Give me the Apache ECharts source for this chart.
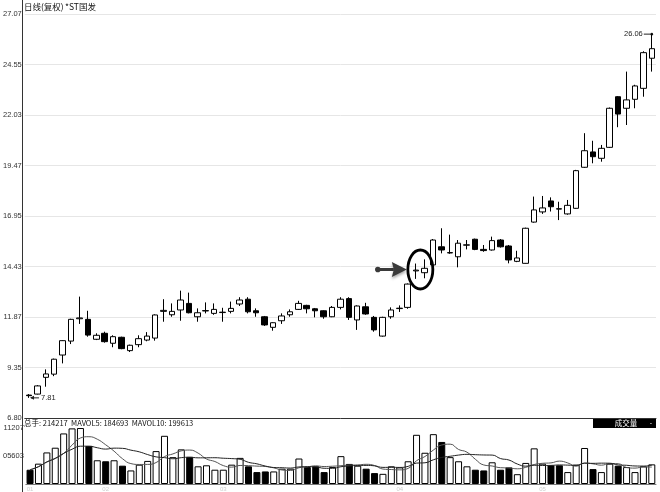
<!DOCTYPE html>
<html>
<head>
<meta charset="utf-8">
<script src="https://cdn.jsdelivr.net/npm/echarts@6/dist/echarts.min.js"></script>
<style>html,body{margin:0;padding:0;background:#fff;}#c{width:660px;height:492px;}</style>
</head>
<body>
<div id="c"></div>
<script>
// ---- data ----
const categories = Array.from({length: 75}, (_, i) => String(i + 1));
const opens  = [7.95,8.00,8.84,9.00,9.96,10.66,11.78,11.75,10.75,11.05,10.55,10.85,10.18,10.48,10.71,10.81,12.15,11.98,12.22,12.55,11.88,12.17,12.05,12.09,12.15,12.52,12.76,12.18,11.88,11.35,11.68,11.98,12.25,12.45,12.28,12.18,11.88,12.35,12.79,11.72,12.38,11.85,10.91,11.88,12.29,12.35,14.18,14.09,14.48,15.39,15.08,14.89,15.47,15.77,15.26,15.23,15.73,15.43,14.66,14.56,16.63,17.14,17.69,17.30,17.04,17.32,19.38,20.15,19.83,20.38,22.92,22.34,22.79,23.34,24.85];
const closes = [7.92,8.41,9.01,9.75,10.68,11.75,11.82,10.96,10.95,10.63,10.88,10.28,10.45,10.78,10.91,11.97,12.20,12.15,12.72,12.08,12.08,12.19,12.25,12.11,12.30,12.72,12.13,12.08,11.47,11.58,11.92,12.13,12.55,12.28,12.18,11.88,12.35,12.76,11.85,12.42,12.02,11.22,11.85,12.22,12.31,13.52,14.22,14.31,15.73,15.23,15.10,15.57,15.49,15.26,15.20,15.70,15.39,14.73,14.83,16.32,17.24,17.34,17.40,17.28,17.47,19.21,20.21,19.91,20.33,22.34,22.05,22.76,23.46,25.13,25.33];
const lows   = [7.81,7.98,8.37,8.90,9.54,10.51,11.52,10.88,10.71,10.58,10.35,10.25,10.11,10.35,10.65,10.68,11.63,11.88,11.68,12.05,11.63,12.05,11.98,11.63,12.05,12.42,12.05,11.88,11.42,11.18,11.52,11.88,12.22,12.05,11.85,11.78,11.86,12.25,11.72,11.22,11.98,11.13,10.88,11.78,12.12,12.28,13.78,13.81,14.45,15.06,15.04,14.36,15.26,15.22,15.14,15.20,15.35,14.56,14.62,14.55,16.60,17.04,17.16,16.73,17.00,17.30,19.35,19.58,19.66,20.35,21.39,21.50,22.34,22.92,24.18];
const highs  = [8.00,8.45,9.24,9.78,10.70,11.78,12.89,12.18,11.05,11.13,10.95,10.88,10.48,10.95,11.11,12.00,12.76,12.55,13.19,13.09,12.30,12.60,12.55,12.33,12.64,12.86,12.86,12.30,11.92,11.60,12.05,12.25,12.68,12.48,12.32,12.20,12.42,12.86,12.86,12.45,12.58,11.92,11.88,12.35,12.45,13.55,14.55,14.76,15.78,16.32,16.00,15.73,15.73,15.80,15.48,15.90,15.78,15.48,15.19,16.35,17.91,17.94,17.87,17.65,17.74,19.25,21.09,20.71,20.50,22.38,22.95,24.18,23.52,25.20,26.06];
const volumes = [155600,222000,344500,396000,552000,607000,611000,415000,259000,248000,259000,200000,148000,211000,252000,359000,526000,293000,378000,296000,193000,204000,156000,156000,211000,285000,193000,130000,137000,137000,167000,167000,278000,185000,193000,130000,185000,304000,219000,200000,167000,119000,111000,193000,181000,248000,537000,341000,544000,459000,293000,248000,193000,156000,148000,237000,156000,181000,107000,230000,389000,222000,204000,204000,130000,211000,393000,163000,130000,222000,200000,185000,130000,193000,214217];
const priceTicks = ['6.80','9.35','11.87','14.43','16.95','19.47','22.03','24.55','27.07'];
const volumeTicks = ['', '05603', '11207'];
const xTickIndex = [0, 9, 23, 44, 61];
const xTickText = ['01', '02', '03', '04', '05'];
const headerText = ['日线(复权)', '*ST国发'];
const volumeHeader = '总手: 214217  MAVOL5: 184693  MAVOL10: 199613';
const highLabel = '26.06';
const lowLabel = '7.81';

// ---- build ----
const candleData = opens.map((o, i) => [o, closes[i], lows[i], highs[i]]);
const volData = volumes.map((v, i) => ({
  value: v,
  itemStyle: closes[i] < opens[i] ? {color: '#000', borderColor: '#000'} : {color: '#fff', borderColor: '#000'}
}));
function ma(arr, n) {
  return arr.map((_, i) => {
    const s = Math.max(0, i - n + 1);
    const sl = arr.slice(s, i + 1);
    return sl.reduce((a, b) => a + b, 0) / sl.length;
  });
}
const font = 'Liberation Sans, Arial, sans-serif';
const chart = echarts.init(document.getElementById('c'), null, {renderer: 'canvas'});
const option = {
  animation: false,
  backgroundColor: '#fff',
  grid: [
    {left: 23, right: 4, top: 14, height: 404},
    {left: 23, right: 4, top: 428, height: 56}
  ],
  xAxis: [
    {type: 'category', gridIndex: 0, data: categories, boundaryGap: true,
     axisLine: {lineStyle: {color: '#333', width: 1}}, axisTick: {show: false},
     axisLabel: {show: false}, splitLine: {show: false}},
    {type: 'category', gridIndex: 1, data: categories, boundaryGap: true,
     axisLine: {lineStyle: {color: '#777', width: 1}}, axisTick: {show: false},
     axisLabel: {interval: (idx) => xTickIndex.includes(idx),
       formatter: (v, idx) => { const k = xTickIndex.indexOf(idx); return k >= 0 ? xTickText[k] : ''; },
       color: '#cfcfcf', fontSize: 6, margin: 2, fontFamily: font},
     splitLine: {show: false}}
  ],
  yAxis: [
    {type: 'value', gridIndex: 0, min: 6.80, max: 27.07, show: false},
    {type: 'value', gridIndex: 0, min: 0, max: 8, interval: 1, position: 'left',
     axisLine: {show: false}, axisTick: {show: false},
     axisLabel: {formatter: (v) => priceTicks[Math.round(v)] || '', color: '#333', fontSize: 7.5, margin: 3, fontFamily: font},
     splitLine: {show: true, lineStyle: {color: '#e6e6e6', width: 1}}},
    {type: 'value', gridIndex: 1, min: 0, max: 611207, show: false},
    {type: 'value', gridIndex: 1, min: 0, max: 2, interval: 1, position: 'left',
     axisLine: {show: false}, axisTick: {show: false}, splitLine: {show: false},
     axisLabel: {formatter: (v) => volumeTicks[Math.round(v)] || '', color: '#333', fontSize: 7.5, margin: 2, fontFamily: font}}
  ],
  series: [
    {type: 'candlestick', xAxisIndex: 0, yAxisIndex: 0, data: candleData, barWidth: 6,
     itemStyle: {color: '#fff', color0: '#000', borderColor: '#000', borderColor0: '#000', borderWidth: 1}},
    {type: 'bar', xAxisIndex: 1, yAxisIndex: 2, data: volData, barWidth: 7,
     itemStyle: {borderWidth: 1}},
    {type: 'line', xAxisIndex: 1, yAxisIndex: 2, data: ma(volumes, 5), smooth: true, symbol: 'none',
     lineStyle: {color: '#555', width: 1}},
    {type: 'line', xAxisIndex: 1, yAxisIndex: 2, data: ma(volumes, 10), smooth: true, symbol: 'none',
     lineStyle: {color: '#222', width: 1}}
  ]
};
chart.setOption(option);

// annotations anchored through the axes
const px = (i, p) => chart.convertToPixel({xAxisIndex: 0, yAxisIndex: 0}, [i, p]);
const hi = px(74, highs[74]);
const lo = px(0, lows[0]);
const a = px(46, 14.25), b = px(47, 14.25);
const cx = (a[0] + b[0]) / 2, cy = a[1];
const rx = 12.5, ry = 19.5;
const tipX = cx - rx - 1;

chart.setOption({
  graphic: [
    {type: 'line', shape: {x1: 22.5, y1: 0, x2: 22.5, y2: 492}, style: {stroke: '#333', lineWidth: 1}, z: 10},
    {type: 'text', x: 24, y: 7, style: {text: headerText[0], font: '8.5px "Noto Sans CJK SC", sans-serif', fill: '#111', verticalAlign: 'middle'}},
    {type: 'text', x: 65, y: 7, style: {text: headerText[1], font: '8.5px "Noto Sans CJK SC", sans-serif', fill: '#111', verticalAlign: 'middle'}},
    {type: 'text', x: 24, y: 423, style: {text: volumeHeader, font: '7.5px "Noto Sans CJK SC", "Liberation Sans", sans-serif', fill: '#111', verticalAlign: 'middle'}},
    {type: 'rect', shape: {x: 593, y: 419, width: 63, height: 9}, style: {fill: '#000'}},
    {type: 'text', x: 626, y: 423.5, style: {text: '成交量', font: '7.5px "Noto Sans CJK SC", sans-serif', fill: '#fff', align: 'center', verticalAlign: 'middle'}},
    {type: 'text', x: 651, y: 423.5, style: {text: '-', font: '7px sans-serif', fill: '#fff', align: 'center', verticalAlign: 'middle'}},
    // high label
    {type: 'text', x: hi[0] - 9, y: hi[1], style: {text: highLabel, font: '7.5px ' + font, fill: '#222', align: 'right', verticalAlign: 'middle'}},
    {type: 'line', shape: {x1: hi[0] - 8, y1: hi[1], x2: hi[0] - 1, y2: hi[1]}, style: {stroke: '#222', lineWidth: 1}},
    {type: 'circle', shape: {cx: hi[0], cy: hi[1], r: 1.3}, style: {fill: '#111'}},
    // low label
    {type: 'line', shape: {x1: lo[0] + 2, y1: lo[1], x2: lo[0] + 10, y2: lo[1]}, style: {stroke: '#222', lineWidth: 1}},
    {type: 'polygon', shape: {points: [[lo[0] + 1, lo[1]], [lo[0] + 5, lo[1] - 2], [lo[0] + 5, lo[1] + 2]]}, style: {fill: '#222'}},
    {type: 'text', x: lo[0] + 12, y: lo[1], style: {text: lowLabel, font: '7.5px ' + font, fill: '#222', verticalAlign: 'middle'}},
    // circle annotation
    {type: 'ellipse', shape: {cx: cx, cy: cy, rx: rx, ry: ry}, style: {fill: null, stroke: '#000', lineWidth: 2.8}, z: 20},
    // arrow annotation
    {type: 'circle', shape: {cx: tipX - 29, cy: cy, r: 2.8}, style: {fill: '#3a3a3a'}, z: 20},
    {type: 'line', shape: {x1: tipX - 29, y1: cy, x2: tipX - 13, y2: cy}, style: {stroke: '#3a3a3a', lineWidth: 3}, z: 20},
    {type: 'polygon', shape: {points: [[tipX, cy], [tipX - 15, cy - 7.5], [tipX - 13, cy], [tipX - 15, cy + 7.5]]},
     style: {fill: '#3a3a3a', shadowColor: 'rgba(0,0,0,0.35)', shadowBlur: 3, shadowOffsetY: 2}, z: 20}
  ]
});
</script>
</body>
</html>
